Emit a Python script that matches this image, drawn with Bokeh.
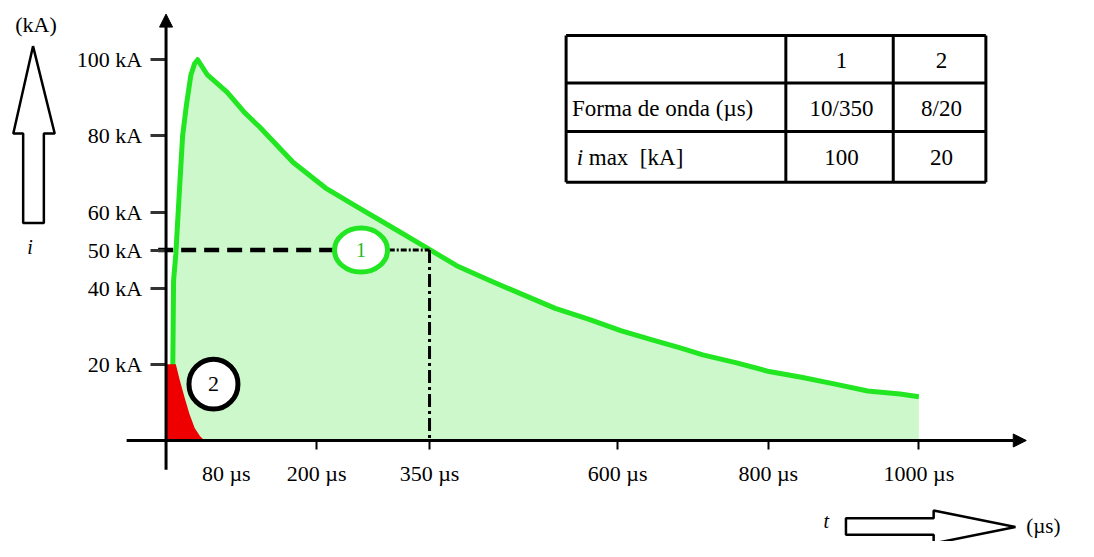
from bokeh.plotting import figure
from bokeh.models import Range1d, LinearAxis, FixedTicker, Arrow, NormalHead
from bokeh.core.properties import value
from bokeh.embed import file_html
from bokeh.resources import INLINE

# ---------------- data ----------------
# wave 1 : 10/350 us, 100 kA
t1 = [8, 9, 10, 13, 17, 22, 27, 33, 38, 42, 55, 81, 105, 124, 169, 212, 255, 300,
      343, 386, 430, 474, 517, 561, 605, 648, 683, 713, 758, 801, 844, 889, 932, 975, 1000]
i1 = [0, 20, 42, 49, 63, 80, 88, 96, 99, 100, 96, 91.5, 86, 82.4, 73, 66.3, 61.2, 56,
      51, 45.9, 42, 38.3, 34.7, 31.9, 28.8, 26.3, 24.3, 22.5, 20.4, 18.1, 16.6, 14.8, 13, 12.2, 11.5]
# wave 2 : 8/20 us, 20 kA
t2 = [0, 0, 13, 18, 25, 31, 38, 45, 51]
i2 = [0, 20, 20, 16, 11, 7, 3.3, 1.2, 0]

x_ticks = [200, 350, 600, 800, 1000]
x_tick_labels = ["200 µs", "350 µs", "600 µs", "800 µs", "1000 µs"]
x_extra_tick = [80]
x_extra_label = ["80 µs"]
y_ticks = [20, 40, 50, 60, 80, 100]
y_tick_labels = ["20 kA", "40 kA", "50 kA", "60 kA", "80 kA", "100 kA"]

half_value = 50      # kA
half_time = 350      # us
marker1 = (259, 50)
marker2 = (63, 14.8)

table_header = ["", "1", "2"]
table_row1 = ["Forma de onda (µs)", "10/350", "8/20"]
table_row2 = ["max\u00a0\u00a0[kA]", "100", "20"]

# ---------------- layout helpers (reference pixels -> data) ----------------
W, H = 1078, 541
REF_W, REF_H = 1094, 557
T0_PX, T_SCALE = 168, 0.764
I0_PX, I_SCALE = 453, 3.92


def px2t(x):
    return (x - T0_PX) / T_SCALE


def px2i(y):
    return (I0_PX - y) / I_SCALE


GREEN = "#22e622"
FILL = "#ccf8cc"
RED = "#ee0000"
FONT = "Liberation Serif"

p = figure(width=W, height=H, output_backend="svg", toolbar_location=None,
           x_range=Range1d(px2t(0), px2t(REF_W)), y_range=Range1d(px2i(REF_H), px2i(0)),
           x_axis_location=None, y_axis_location=None, min_border=0)
p.outline_line_color = None
p.xgrid.visible = False
p.ygrid.visible = False
p.background_fill_color = "white"
p.border_fill_color = "white"

# fill under wave 1
p.patch(t1 + [t1[-1]], i1 + [0], fill_color=FILL, line_color=None)
# wave 1 line
p.line(t1, i1, line_color=GREEN, line_width=5, line_join="round")
# wave 2
p.patch(t2, i2, fill_color=RED, line_color=None)

# half value construction lines
p.line([px2t(160), px2t(340)], [half_value, half_value], line_color="black", line_width=4.5, line_dash="15 8")
p.line([px2t(394), half_time], [half_value, half_value], line_color="black", line_width=3, line_dash="6 2 2 2")
p.line([half_time, half_time], [half_value, 0], line_color="black", line_width=3, line_dash="13 4 3 4")

# markers
p.ellipse(x=[marker1[0]], y=[marker1[1]], width=53, height=44, width_units="screen", height_units="screen",
          fill_color="white", line_color=GREEN, line_width=5)
p.text(x=[marker1[0]], y=[marker1[1]], text=["1"], text_color="#22b822", text_font=value(FONT),
       text_font_size="20px", text_align="center", text_baseline="middle")
p.ellipse(x=[marker2[0]], y=[marker2[1]], width=49, height=50, width_units="screen", height_units="screen",
          fill_color="white", line_color="black", line_width=5)
p.text(x=[marker2[0]], y=[marker2[1]], text=["2"], text_color="black", text_font=value(FONT),
       text_font_size="22px", text_align="center", text_baseline="middle")

# axes (ticks and labels)
xaxis = LinearAxis(fixed_location=0, ticker=FixedTicker(ticks=x_ticks),
                   major_label_overrides={v: s for v, s in zip(x_ticks, x_tick_labels)})
xaxis2 = LinearAxis(fixed_location=0, ticker=FixedTicker(ticks=x_extra_tick),
                    major_label_overrides={v: s for v, s in zip(x_extra_tick, x_extra_label)})
for ax in (xaxis, xaxis2):
    ax.axis_line_color = None
    ax.major_tick_in = 0
    ax.major_tick_out = 9
    ax.major_tick_line_width = 2
    ax.major_tick_line_color = "black"
    ax.minor_tick_line_color = None
    ax.major_label_text_font = FONT
    ax.major_label_text_font_size = "22px"
    ax.major_label_text_color = "black"
    ax.major_label_standoff = 12
xaxis2.major_tick_line_color = None
p.add_layout(xaxis, "below")
p.add_layout(xaxis2, "below")

yaxis = LinearAxis(fixed_location=0, ticker=FixedTicker(ticks=y_ticks),
                   major_label_overrides={v: s for v, s in zip(y_ticks, y_tick_labels)})
yaxis.axis_line_color = None
yaxis.major_tick_in = 0
yaxis.major_tick_out = 16
yaxis.major_tick_line_width = 3
yaxis.major_tick_line_color = "#333333"
yaxis.minor_tick_line_color = None
yaxis.major_label_text_font = FONT
yaxis.major_label_text_font_size = "22px"
yaxis.major_label_text_color = "black"
yaxis.major_label_standoff = 8
p.add_layout(yaxis, "left")

# axis lines with arrow heads
p.add_layout(Arrow(end=NormalHead(size=13, fill_color="black", line_color="black"),
                   x_start=0, y_start=px2i(483), x_end=0, y_end=px2i(14),
                   line_width=3, line_color="black"))
p.add_layout(Arrow(end=NormalHead(size=13, fill_color="black", line_color="black"),
                   x_start=px2t(128), y_start=0, x_end=px2t(1041), y_end=0,
                   line_width=3, line_color="black"))

# hollow arrow for i (left)
la_x = [33, 55, 44, 44, 23, 23, 13]
la_y = [47, 137, 137, 229, 229, 137, 137]
p.patch([px2t(v) for v in la_x], [px2i(v) for v in la_y], fill_color="white", line_color="black", line_width=2.5)
p.text(x=[px2t(36)], y=[px2i(25)], text=["(kA)"], text_font=value(FONT), text_font_size="22px",
       text_align="center", text_baseline="middle", text_color="black")
p.text(x=[px2t(30)], y=[px2i(254)], text=["i"], text_font=value(FONT), text_font_size="20px",
       text_font_style="italic", text_align="center", text_baseline="middle", text_color="black")

# hollow arrow for t (bottom)
ba_x = [858, 947, 947, 1030, 947, 947, 858]
ba_y = [533, 533, 525, 542, 559, 550, 550]
p.patch([px2t(v) for v in ba_x], [px2i(v) for v in ba_y], fill_color="white", line_color="black", line_width=2.5)
p.text(x=[px2t(838)], y=[px2i(536)], text=["t"], text_font=value(FONT), text_font_size="20px",
       text_font_style="italic", text_align="center", text_baseline="middle", text_color="black")
p.text(x=[px2t(1041)], y=[px2i(541)], text=["(µs)"], text_font=value(FONT), text_font_size="21px",
       text_align="left", text_baseline="middle", text_color="black")

# table
col_px = [574, 797, 906, 1000]
row_px = [36, 85, 135, 187]
p.segment(x0=[px2t(col_px[0])] * 4, x1=[px2t(col_px[-1])] * 4,
          y0=[px2i(r) for r in row_px], y1=[px2i(r) for r in row_px], line_color="black", line_width=3)
p.segment(x0=[px2t(c) for c in col_px], x1=[px2t(c) for c in col_px],
          y0=[px2i(row_px[0])] * 4, y1=[px2i(row_px[-1])] * 4, line_color="black", line_width=3)

rows = [table_header, table_row1, table_row2]
for r, row in enumerate(rows):
    yc = px2i((row_px[r] + row_px[r + 1]) / 2 + 1)
    x_first = px2t(580) if r == 1 else px2t(597)
    if row[0]:
        p.text(x=[x_first], y=[yc], text=[row[0]], text_font=value(FONT), text_font_size="23px",
               text_align="left", text_baseline="middle", text_color="black")
    for c in (1, 2):
        xc = px2t((col_px[c] + col_px[c + 1]) / 2 + 2)
        p.text(x=[xc], y=[yc], text=[row[c]], text_font=value(FONT), text_font_size="23px",
               text_align="center", text_baseline="middle", text_color="black")
# italic i of "i max"
p.text(x=[px2t(588)], y=[px2i((row_px[2] + row_px[3]) / 2 + 1)], text=["i"], text_font=value(FONT),
       text_font_size="23px", text_font_style="italic", text_align="center", text_baseline="middle",
       text_color="black")

open("out.html", "w").write(file_html(p, INLINE))
